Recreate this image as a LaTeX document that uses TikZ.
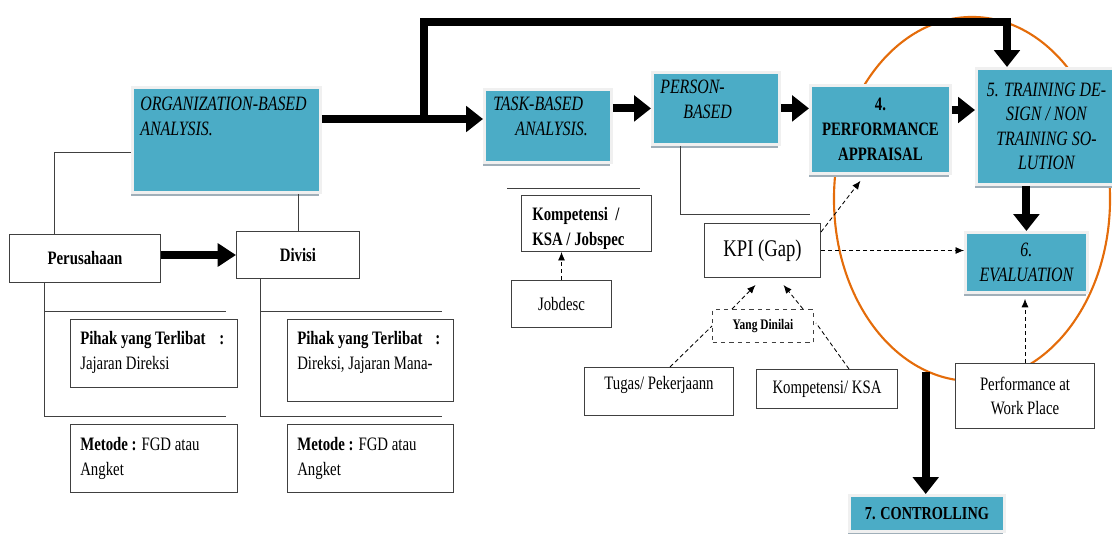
\documentclass[tikz,border=0pt]{standalone}
\usepackage{fontspec}
\setmainfont[FakeStretch=0.78]{Liberation Serif}
\usepackage{tikz}
\usetikzlibrary{arrows.meta,shapes.geometric,shadows,calc}
\definecolor{tealbox}{RGB}{75,172,198}
\definecolor{ovalline}{RGB}{228,108,10}
\definecolor{shadowc}{RGB}{160,175,185}
\newcommand{\boxfont}{\fontsize{13.5}{17.5}\selectfont}
\newcommand{\stepfont}{\fontsize{14.5}{17.5}\selectfont\itshape}

\begin{document}
\begin{tikzpicture}[x=0.025cm,y=-0.025cm,
  every node/.style={font=\boxfont},
  box/.style={rectangle,draw=black!75,line width=0.7pt,fill=white,anchor=north west,inner sep=0pt,align=center},
  tbox/.style={rectangle,draw=black!6,line width=2pt,fill=tealbox,anchor=north west,inner sep=0pt,align=center,
    drop shadow={shadow xshift=-1.2pt,shadow yshift=-2.5pt,fill=shadowc,opacity=1}},
  txt/.style={anchor=north west,inner sep=0pt,align=left},
  fat/.style={line width=5.6pt,-{Triangle[length=12pt,width=18pt]}},
  dsh/.style={densely dashed,line width=0.6pt,-{Latex[length=6pt,width=5pt]}},
  dln/.style={densely dashed,line width=0.6pt},
  thin/.style={line width=0.7pt,draw=black!75}]
  \useasboundingbox (0,0) rectangle (1112,533);

  % oval round steps 4-6
  \node[ellipse,draw=ovalline,line width=1.5pt,minimum width=6.9cm,minimum height=9.1cm,inner sep=0pt] (circ) at (972,199) {};

  % analysis steps
  \node[tbox,minimum width=4.7cm,minimum height=2.625cm] (org) at (131,86) {};
  \node[txt,font=\stepfont] (orgtxt) at ($(org.north west)+(9,11)$) {ORGANIZATION-BASED\\ANALYSIS.};
  \node[tbox,minimum width=3.175cm,minimum height=1.825cm] (task) at (483,88) {};
  \node[txt,font=\stepfont] (tasktxt) at ($(task.north west)+(10,9)$) {TASK-BASED\\\hspace*{0.55cm}ANALYSIS.};
  \node[tbox,minimum width=3.175cm,minimum height=1.8cm] (person) at (651,71) {};
  \node[txt,font=\stepfont] (persontxt) at ($(person.north west)+(9,9)$) {PERSON-\\\hspace*{0.575cm}BASED};
  \node[tbox,minimum width=3.5cm,minimum height=2.2cm,font=\boxfont\bfseries] (perf) at (809,84) {4.\\PERFORMANCE\\APPRAISAL};
  \node[tbox,minimum width=3.5cm,minimum height=2.9cm,font=\stepfont] (train) at (975,67) {5. TRAINING DE-\\SIGN / NON\\TRAINING SO-\\LUTION};
  \node[tbox,minimum width=3.05cm,minimum height=1.5cm,font=\stepfont] (eval) at (964,231) {6.\\EVALUATION};
  \node[tbox,minimum width=3.875cm,minimum height=0.9cm,font=\fontsize{13}{15}\selectfont\bfseries] (ctrl) at (848,494) {7. CONTROLLING};

  % organization level
  \node[box,minimum width=3.775cm,minimum height=1.2cm,font=\boxfont\bfseries] (peru) at (9,234) {Perusahaan};
  \node[box,minimum width=3.075cm,minimum height=1.175cm,font=\boxfont\bfseries] (div) at (236,231) {Divisi};
  \node[box,minimum width=4.175cm,minimum height=1.7cm] (pihakA) at (70,319) {};
  \node[txt] (pihakAtxt) at ($(pihakA.north west)+(10,12)$) {\hbox to 3.6cm{\bfseries Pihak yang Terlibat\hfil:}\\Jajaran Direksi};
  \node[box,minimum width=4.175cm,minimum height=1.7cm] (metodeA) at (70,424) {};
  \node[txt] (metodeAtxt) at ($(metodeA.north west)+(10,13)$) {\textbf{Metode :} FGD atau\\Angket};
  \node[box,minimum width=4.15cm,minimum height=2.05cm] (pihakB) at (287,319) {};
  \node[txt] (pihakBtxt) at ($(pihakB.north west)+(10,12)$) {\hbox to 3.575cm{\bfseries Pihak yang Terlibat\hfil:}\\Direksi, Jajaran Mana-};
  \node[box,minimum width=4.15cm,minimum height=1.7cm] (metodeB) at (287,424) {};
  \node[txt] (metodeBtxt) at ($(metodeB.north west)+(10,13)$) {\textbf{Metode :} FGD atau\\Angket};

  % task and person level
  \node[box,minimum width=3.25cm,minimum height=1.4cm] (kjob) at (521,195) {};
  \node[txt,font=\boxfont\bfseries] (kjobtxt) at ($(kjob.north west)+(11,12)$) {Kompetensi\ \ /\\KSA / Jobspec};
  \node[box,minimum width=2.5cm,minimum height=1.175cm] (jobdesc) at (511,280) {Jobdesc};
  \node[box,minimum width=2.9cm,minimum height=1.35cm,font=\fontsize{17}{20}\selectfont] (kpi) at (704,223) {KPI (Gap)};
  \node[box,dashed,minimum width=2.525cm,minimum height=0.825cm,font=\fontsize{10.4}{12}\selectfont\bfseries] (dinilai) at (712,309) {Yang Dinilai};
  \node[box,minimum width=3.725cm,minimum height=1.2cm,text depth=12pt] (tugas) at (584,367) {Tugas/ Pekerjaann};
  \node[box,minimum width=3.525cm,minimum height=0.975cm] (ksa) at (756,369) {Kompetensi/ KSA};
  \node[box,minimum width=3.475cm,minimum height=1.625cm] (pwork) at (955,363) {Performance at\\Work Place};

  % thick arrows
  \coordinate (fork) at (424,119);
  \coordinate (ctop) at (1007,22);
  \draw[fat] (org.east |- fork) -- (task.west |- fork);
  \draw[fat] (fork) |- (ctop) -- (ctop |- train.north);
  \draw[fat] (task.east |- person.west) -- (person.west);
  \draw[fat] (person.east) -- (perf.west |- person.east);
  \draw[fat] ($(perf.north east)+(0,26)$) -- ($(train.north west)+(0,43)$);
  \draw[fat] (eval.north |- train.south) -- (eval.north);
  \draw[fat] (circ.255) -- (circ.255 |- ctrl.north);
  \draw[fat,-{Triangle[length=13pt,width=16pt]}] (peru.east |- div.west) -- (div.west);

  % thin lines
  \draw[thin] ($(org.west)+(0,12.5)$) -| ($(peru.north west)+(45,0)$);
  \draw[thin] (div.north |- org.south) -- (div.north);
  \draw[thin] ($(peru.south west)+(35,0)$) |- ($(peru.south west)+(217,133)$);
  \draw[thin] ($(peru.south west)+(35,28)$) -- ($(peru.south west)+(217,28)$);
  \draw[thin] ($(div.south west)+(24,0)$) |- ($(div.south west)+(206,137)$);
  \draw[thin] ($(div.south west)+(24,32)$) -- ($(div.south west)+(206,32)$);
  \draw[thin] ($(task.south west)+(24,25)$) -- ($(task.south west)+(157,25)$);
  \draw[thin] ($(person.south)+(-35,0)$) |- ($(kpi.north east)+(-11,-9)$);

  % dashed links
  \draw[dsh] (jobdesc.north) -- (kjob.south -| jobdesc.north);
  \draw[dsh] ($(dinilai.north west)+(20,0)$) -- ($(kpi.south)+(-7,7)$);
  \draw[dsh] ($(dinilai.north east)+(-11,0)$) -- ($(kpi.south)+(21,7)$);
  \draw[dln] ($(tugas.north)+(11,0)$) -- (dinilai.west);
  \draw[dln] ($(ksa.north)+(22,0)$) -- ($(dinilai.east)+(2,-3)$);
  \draw[dsh] ($(kpi.north east)+(0,9)$) -- ($(perf.south)+(-20,6)$);
  \draw[dsh] (kpi.east) -- (kpi.east -| eval.west);
  \draw[dsh] (pwork.north) -- ($(eval.south -| pwork.north)+(0,5)$);
\end{tikzpicture}
\end{document}
